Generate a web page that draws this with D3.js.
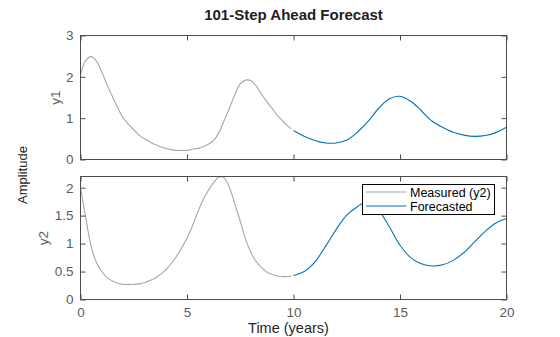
<!DOCTYPE html>
<html>
<head>
<meta charset="utf-8">
<script src="https://cdn.jsdelivr.net/npm/d3@7"></script>
<style>
html,body{margin:0;padding:0;background:#fff;}
svg{display:block;font-family:"Liberation Sans",Arial,Helvetica,sans-serif;}
</style>
</head>
<body>
<svg id="chart" width="560" height="337"></svg>
<script>
// ---- data ----
const measuredTime = [0,0.25,0.5,0.75,1,1.25,1.5,1.75,2,2.25,2.5,2.75,3,3.25,3.5,3.75,4,4.25,4.5,4.75,5,5.25,5.5,5.75,6,6.25,6.5,6.75,7,7.25,7.5,7.75,8,8.25,8.5,8.75,9,9.25,9.5,9.75,9.9];
const measuredY1 = [2.05,2.40,2.49,2.38,2.12,1.80,1.52,1.25,1.01,0.85,0.72,0.59,0.50,0.43,0.36,0.31,0.27,0.24,0.22,0.22,0.22,0.25,0.27,0.31,0.37,0.46,0.65,0.95,1.25,1.58,1.83,1.92,1.91,1.78,1.58,1.40,1.23,1.06,0.93,0.80,0.74];
const measuredY2 = [2.00,1.45,0.95,0.66,0.50,0.39,0.33,0.29,0.27,0.27,0.27,0.28,0.30,0.34,0.38,0.45,0.53,0.64,0.77,0.92,1.10,1.31,1.56,1.78,1.95,2.09,2.19,2.17,2.00,1.70,1.40,1.08,0.84,0.68,0.57,0.49,0.45,0.42,0.41,0.41,0.42];
const forecastTime = [10,10.5,11,11.5,12,12.5,13,13.5,14,14.5,15,15.5,16,16.5,17,17.5,18,18.5,19,19.5,20];
const forecastY1 = [0.70,0.56,0.46,0.40,0.40,0.47,0.66,0.92,1.24,1.47,1.53,1.41,1.18,0.93,0.78,0.66,0.59,0.56,0.58,0.65,0.78];
const forecastY2 = [0.43,0.50,0.67,0.95,1.25,1.51,1.66,1.76,1.60,1.30,0.97,0.75,0.64,0.60,0.62,0.70,0.84,1.03,1.22,1.37,1.45];
const xTicks = [0,5,10,15,20];
const y1Ticks = [0,1,2,3];
const y2Ticks = [0,0.5,1,1.5,2];
const legendLabels = ["Measured (y2)","Forecasted"];

// ---- layout ----
const svg = d3.select("#chart");
const L = 80.5, R = 506.5;
const panels = [
  {top:35.5, bottom:159.5, domain:[0,3], ticks:y1Ticks, meas:measuredY1, fc:forecastY1, label:"y1", labelX:60, showX:false},
  {top:176.5, bottom:299.5, domain:[0,2.2], ticks:y2Ticks, meas:measuredY2, fc:forecastY2, label:"y2", labelX:48, showX:true}
];
const axisColor = "#4d4d4d";
const tickText = "#5c5c5c";
const grayLine = "#a6a6a6";
const blueLine = "#0072BD";
const x = d3.scaleLinear().domain([0,20]).range([L,R]);

function styleAxis(g, showLabels){
  g.select(".domain").remove();
  g.selectAll(".tick line").attr("stroke", axisColor);
  g.selectAll(".tick text").attr("fill", tickText).style("font-size","13.5px");
  if(!showLabels) g.selectAll(".tick text").remove();
}

panels.forEach(p => {
  const y = d3.scaleLinear().domain(p.domain).range([p.bottom,p.top]);
  const g = svg.append("g");

  // lines
  const measData = measuredTime.map((t,i)=>[t,p.meas[i]]);
  const fcData = forecastTime.map((t,i)=>[t,p.fc[i]]);
  g.append("path").datum(measData)
    .attr("d", d3.line().x(d=>x(d[0])).y(d=>y(d[1])).curve(d3.curveCatmullRom))
    .attr("fill","none").attr("stroke",grayLine).attr("stroke-width",1.1);
  g.append("path").datum(fcData)
    .attr("d", d3.line().x(d=>x(d[0])).y(d=>y(d[1])).curve(d3.curveCatmullRom))
    .attr("fill","none").attr("stroke",blueLine).attr("stroke-width",1.1);

  // axes
  const gl = g.append("g").attr("transform",`translate(${L},0)`)
    .call(d3.axisLeft(y).tickValues(p.ticks).tickFormat(d3.format("~g")).tickSize(-5).tickPadding(7));
  styleAxis(gl,true);
  const gr = g.append("g").attr("transform",`translate(${R},0)`)
    .call(d3.axisRight(y).tickValues(p.ticks).tickSize(-5));
  styleAxis(gr,false);
  const gb = g.append("g").attr("transform",`translate(0,${p.bottom})`)
    .call(d3.axisBottom(x).tickValues(xTicks).tickFormat(d3.format("d")).tickSize(-5).tickPadding(7.5));
  styleAxis(gb,p.showX);
  const gt = g.append("g").attr("transform",`translate(0,${p.top})`)
    .call(d3.axisTop(x).tickValues(xTicks).tickSize(-5));
  styleAxis(gt,false);

  g.append("rect").attr("x",L).attr("y",p.top).attr("width",R-L).attr("height",p.bottom-p.top)
    .attr("fill","none").attr("stroke",axisColor).attr("stroke-width",1);

  // y label
  const lx = p.labelX, ly = (p.top+p.bottom)/2;
  svg.append("text").attr("transform",`translate(${lx},${ly}) rotate(-90)`)
    .attr("text-anchor","middle").attr("fill",tickText).style("font-size","13.5px").text(p.label);
});

// title & labels
svg.append("text").attr("x",(L+R)/2).attr("y",20).attr("text-anchor","middle")
  .style("font-size","15px").style("font-weight","bold").attr("fill","#212121")
  .text("101-Step Ahead Forecast");
svg.append("text").attr("x",288.5).attr("y",333).attr("text-anchor","middle")
  .style("font-size","14.5px").attr("fill","#262626").text("Time (years)");
svg.append("text").attr("transform","translate(27,175) rotate(-90)").attr("text-anchor","middle")
  .style("font-size","13px").attr("fill","#262626").text("Amplitude");

// legend
const lg = svg.append("g");
lg.append("rect").attr("x",362.5).attr("y",184.5).attr("width",132).attr("height",30)
  .attr("fill","#fff").attr("stroke","#000").attr("stroke-width",1);
const legColors = [grayLine, blueLine];
legendLabels.forEach((lab,i)=>{
  const yy = 192 + i*14;
  lg.append("line").attr("x1",366).attr("x2",406.5).attr("y1",yy).attr("y2",yy)
    .attr("stroke",legColors[i]).attr("stroke-width",1.1);
  lg.append("text").attr("x",410).attr("y",yy+4.5).style("font-size","12.5px").attr("fill","#000").text(lab);
});
</script>
</body>
</html>
